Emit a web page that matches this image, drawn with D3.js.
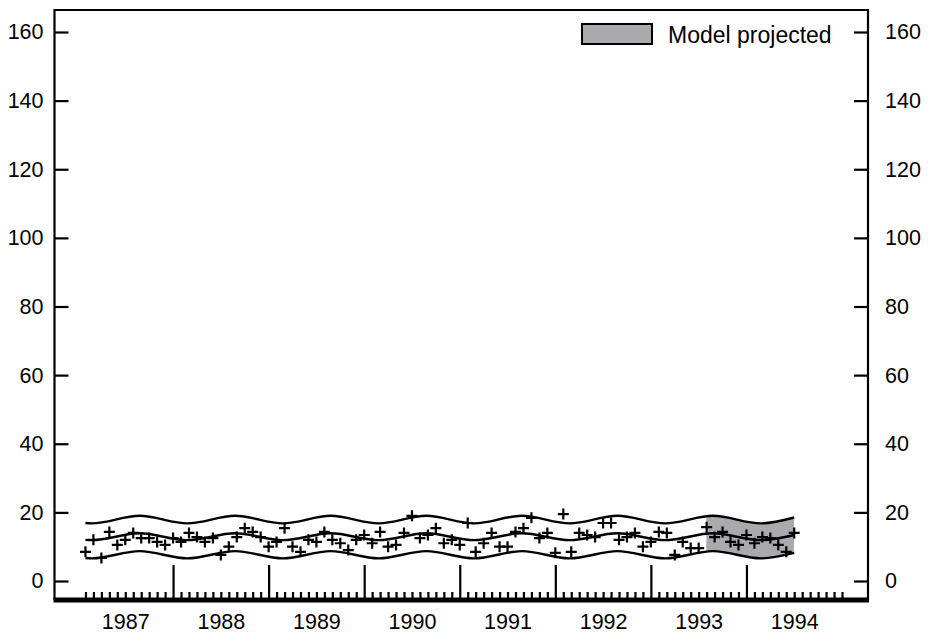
<!DOCTYPE html>
<html>
<head>
<meta charset="utf-8">
<script src="https://cdn.jsdelivr.net/npm/d3@7"></script>
<style>
  body { margin: 0; background: #fff; }
  svg text { font-family: "Liberation Sans", Arial, Helvetica, sans-serif; fill: #000; }
</style>
</head>
<body>
<svg id="chart" width="928" height="633"></svg>
<script>
// Observed monthly values, Feb 1987 .. Jul 1994
const firstObs = new Date(1987, 1, 1);
const observed = [
  8.5, 12, 6.7, 14.3, 10.5, 12, 14, 12.5, 12.5, 11.4, 10.5,
  12.5, 11.4, 14, 12.8, 11.4, 12.5, 7.6, 10, 12.8, 15.4, 14.3, 12.8,
  10, 11.4, 15.4, 10, 8.5, 12, 11.4, 14.3, 12, 11, 9, 12,
  13.4, 11, 14.3, 10, 10.5, 14, 19, 12.5, 13.4, 15.4, 11, 12,
  10.5, 16.9, 8.5, 11, 14, 10, 10, 14.3, 15.4, 18.4, 12.5, 14,
  8.2, 19.5, 8.5, 14, 13.4, 12.8, 16.9, 16.9, 12, 12.8, 14, 10,
  11.4, 14.3, 14, 7.6, 11.4, 9.6, 9.6, 15.7, 12.8, 14.3, 11.4, 10.5,
  13.4, 11, 12.8, 12.5, 10.5, 8.5, 14
];

// Model curves: knots at start, seasonal troughs/peaks, end (decimal years)
const modelTimes = [1987.083, 1987.15, 1987.65, 1988.15, 1988.65, 1989.15, 1989.65,
  1990.15, 1990.65, 1991.15, 1991.65, 1992.15, 1992.65, 1993.15, 1993.65, 1994.15, 1994.5];
const modelUpper = [16.9, 16.8, 19.0, 16.8, 19.0, 16.8, 19.0, 16.8, 19.0, 16.8, 19.0, 16.8, 19.0, 16.8, 19.0, 16.8, 18.5];
const modelMid   = [12.0, 11.9, 13.9, 11.9, 13.9, 11.9, 13.9, 11.9, 13.9, 11.9, 13.9, 11.9, 13.9, 11.9, 13.9, 11.9, 13.4];
const modelLower = [6.7, 6.6, 8.7, 6.6, 8.7, 6.6, 8.7, 6.6, 8.7, 6.6, 8.7, 6.6, 8.7, 6.6, 8.7, 6.6, 8.2];
const projectedFrom = 1993.58;

const yTicks = [0, 20, 40, 60, 80, 100, 120, 140, 160];
const yearLabels = [1987, 1988, 1989, 1990, 1991, 1992, 1993, 1994];
const majorYears = [1988, 1989, 1990, 1991, 1992, 1993, 1994];

const svg = d3.select("#chart");
const plotLeft = 54.5, plotRight = 868, plotTop = 10, plotBottom = 600;

const toYear = d => d.getFullYear() + d.getMonth() / 12;
const x = d3.scaleLinear().domain([1987, 1995]).range([77.5, 842]);
const y = d3.scaleLinear().domain([0, 160]).range([581, 32]);

const obs = observed.map((v, i) => ({ t: toYear(d3.timeMonth.offset(firstObs, i)), v }));
const model = modelTimes.map((t, i) => ({ t, hi: modelUpper[i], mid: modelMid[i], lo: modelLower[i] }));

// Projected band
svg.append("clipPath").attr("id", "proj")
  .append("rect")
  .attr("x", x(projectedFrom)).attr("y", plotTop)
  .attr("width", x(modelTimes[modelTimes.length - 1]) - x(projectedFrom))
  .attr("height", plotBottom - plotTop);

svg.append("path")
  .datum(model)
  .attr("clip-path", "url(#proj)")
  .attr("fill", "#a9a9ae")
  .attr("d", d3.area().curve(d3.curveMonotoneX)
    .x(d => x(d.t)).y0(d => y(d.lo)).y1(d => y(d.hi)));

// Model lines
["hi", "mid", "lo"].forEach(k => {
  svg.append("path")
    .datum(model)
    .attr("fill", "none")
    .attr("stroke", "#000")
    .attr("stroke-width", 2.4)
    .attr("d", d3.line().curve(d3.curveMonotoneX).x(d => x(d.t)).y(d => y(d[k])));
});

// Observations
svg.append("g")
  .selectAll("path")
  .data(obs)
  .join("path")
  .attr("transform", d => `translate(${x(d.t)},${y(d.v)})`)
  .attr("d", "M-5.5,0H5.5M0,-5.5V5.5")
  .attr("stroke", "#000")
  .attr("stroke-width", 2.2);

// Y axes (ticks inward)
const yl = svg.append("g").attr("transform", `translate(${plotLeft},0)`)
  .call(d3.axisLeft(y).tickValues(yTicks).tickSize(-14).tickPadding(11));
const yr = svg.append("g").attr("transform", `translate(${plotRight},0)`)
  .call(d3.axisRight(y).tickValues(yTicks).tickSize(-14).tickPadding(17));

// X axis: monthly minor ticks, tall ticks at year starts, labels mid-year
const minorMonths = d3.timeMonth.range(new Date(1987, 1, 1), new Date(1995, 1, 1))
  .map(toYear).filter(t => !majorYears.includes(t));
const xm = svg.append("g").attr("transform", `translate(0,${plotBottom})`)
  .call(d3.axisBottom(x).tickValues(minorMonths).tickSize(-8).tickFormat(""));
const xM = svg.append("g").attr("transform", `translate(0,${plotBottom})`)
  .call(d3.axisBottom(x).tickValues(majorYears).tickSize(-35).tickFormat(""));
const xl = svg.append("g").attr("transform", `translate(0,${plotBottom})`)
  .call(d3.axisBottom(x).tickValues(yearLabels.map(t => t + 0.5)).tickSize(0).tickPadding(14)
    .tickFormat(d => d3.format("d")(d - 0.5)));

[yl, yr, xm, xM, xl].forEach(g => {
  g.select(".domain").remove();
  g.selectAll("line").attr("stroke", "#000").attr("stroke-width", 2.2);
  g.selectAll("text").attr("font-size", 21.5).attr("fill", "#000");
});

// Frame
svg.append("path")
  .attr("d", `M${plotLeft},${plotBottom}V${plotTop}H${plotRight}V${plotBottom}`)
  .attr("fill", "none").attr("stroke", "#000").attr("stroke-width", 2.2);
svg.append("line")
  .attr("x1", plotLeft - 1).attr("x2", plotRight + 1).attr("y1", plotBottom).attr("y2", plotBottom)
  .attr("stroke", "#000").attr("stroke-width", 5);

// Legend
const legend = svg.append("g").attr("transform", "translate(582,24)");
legend.append("rect")
  .attr("width", 70).attr("height", 20)
  .attr("fill", "#a9a9ae").attr("stroke", "#000").attr("stroke-width", 2);
legend.append("text")
  .attr("x", 86).attr("y", 19)
  .attr("font-size", 23)
  .text("Model projected");
</script>
</body>
</html>
